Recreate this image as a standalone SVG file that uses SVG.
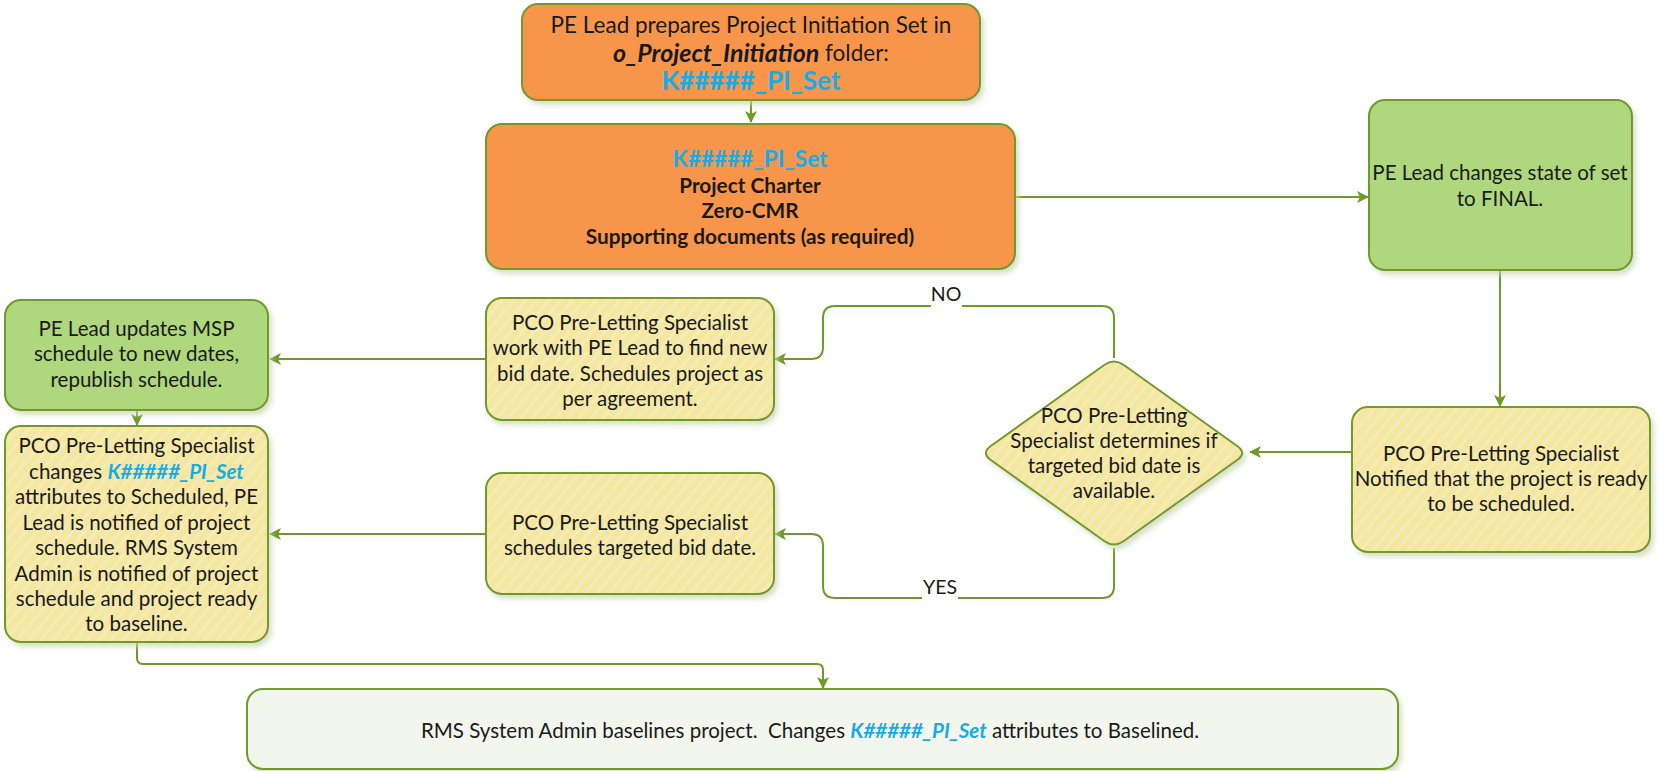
<svg xmlns="http://www.w3.org/2000/svg" width="1661" height="771" viewBox="0 0 1661 771">
<style>
text{font-family:Lato,"Open Sans","Liberation Sans",sans-serif;fill:#1a1a1a;text-anchor:middle;dominant-baseline:central}
.t{font-size:20.5px}
.tt{font-size:22.5px}
.b{font-size:20.8px;font-weight:bold}
.blue{fill:#18ACE6;font-weight:bold}
.bi{font-weight:bold;font-style:italic}
.box{stroke:#73992B;stroke-width:2;filter:url(#sh)}
.org{fill:#F7964B}
.grn{fill:#AFD77E}
.yel{fill:url(#hatch)}
.pale{fill:#F3F6EC}
.con{fill:none;stroke:#6E9A26;stroke-width:2;marker-end:url(#arr)}
.lbl{font-size:19.5px}
</style>
<defs>
<filter id="sh" x="-10%" y="-10%" width="125%" height="130%">
<feDropShadow dx="3" dy="4" stdDeviation="2.5" flood-color="#c9d4b2" flood-opacity="0.7"/>
</filter>
<pattern id="hatch" patternUnits="userSpaceOnUse" width="9" height="9" patternTransform="rotate(40)">
<rect width="9" height="9" fill="#F4E7A2"/>
<rect width="3" height="9" fill="#F6EBB3"/>
</pattern>
<marker id="arr" viewBox="0 0 12 12" refX="11" refY="6" markerWidth="12" markerHeight="12" markerUnits="userSpaceOnUse" orient="auto">
<path d="M0,0 L12,6 L0,12 L3,6 Z" fill="#6E9A26"/>
</marker>
</defs>
<rect width="1661" height="771" fill="#ffffff"/>

<g id="connectors">
<path class="con" d="M751,100 L751,122"/>
<path class="con" d="M1015,197 L1368,197"/>
<path class="con" d="M1500,270 L1500,406"/>
<path class="con" d="M1352,452 L1250,452"/>
<path class="con" d="M1114,358 L1114,318 Q1114,306 1102,306 L835,306 Q823,306 823,318 L823,347 Q823,359 811,359 L775,359"/>
<path class="con" d="M1114,548 L1114,586 Q1114,598 1102,598 L835,598 Q823,598 823,586 L823,546 Q823,534 811,534 L775,534"/>
<path class="con" d="M486,359 L270,359"/>
<path class="con" d="M486,534 L270,534"/>
<path class="con" d="M137,410 L137,425"/>
<path class="con" d="M137,642 L137,658 Q137,664 143,664 L817,664 Q823,664 823,670 L823,688"/>
<rect x="931" y="281" width="31" height="26" fill="#ffffff"/>
<text class="lbl" x="946" y="293">NO</text>
<rect x="922" y="573" width="36" height="27" fill="#ffffff"/>
<text class="lbl" x="940" y="586">YES</text>
</g>

<g id="n_prepare">
<rect class="box org" x="522" y="4" width="458" height="96" rx="16"/>
<text class="tt" x="751" y="24">PE Lead prepares Project Initiation Set in</text>
<text class="tt" x="751" y="52"><tspan class="bi" style="font-size:25px">o_Project_Initiation</tspan> folder:</text>
<text class="tt blue" x="751" y="80" style="font-size:26px">K#####_PI_Set</text>
</g>

<g id="n_set">
<rect class="box org" x="486" y="124" width="529" height="145" rx="16"/>
<text class="b blue" x="750" y="158" style="font-size:22.5px">K#####_PI_Set</text>
<text class="b" x="750" y="184">Project Charter</text>
<text class="b" x="750" y="209">Zero-CMR</text>
<text class="b" x="750" y="235">Supporting documents (as required)</text>
</g>

<g id="n_final">
<rect class="box grn" x="1369" y="100" width="263" height="170" rx="16"/>
<text class="t" x="1500" y="172">PE Lead changes state of set</text>
<text class="t" x="1500" y="198">to FINAL.</text>
</g>

<g id="n_notified">
<rect class="box yel" x="1352" y="407" width="298" height="145" rx="16"/>
<text class="t" x="1501" y="453">PCO Pre-Letting Specialist</text>
<text class="t" x="1501" y="478">Notified that the project is ready</text>
<text class="t" x="1501" y="503">to be scheduled.</text>
</g>

<g id="n_decision">
<path class="box yel" d="M990.8,446 L1104.2,365 Q1114,358 1123.8,365 L1237.2,446 Q1247,453 1237.2,460 L1123.8,541 Q1114,548 1104.2,541 L990.8,460 Q981,453 990.8,446 Z"/>
<text class="t" x="1114" y="415">PCO Pre-Letting</text>
<text class="t" x="1114" y="440">Specialist determines if</text>
<text class="t" x="1114" y="465">targeted bid date is</text>
<text class="t" x="1114" y="490">available.</text>
</g>

<g id="n_newdate">
<rect class="box yel" x="486" y="298" width="288" height="122" rx="16"/>
<text class="t" x="630" y="322">PCO Pre-Letting Specialist</text>
<text class="t" x="630" y="347">work with PE Lead to find new</text>
<text class="t" x="630" y="373">bid date. Schedules project as</text>
<text class="t" x="630" y="398">per agreement.</text>
</g>

<g id="n_schedules">
<rect class="box yel" x="486" y="473" width="288" height="121" rx="16"/>
<text class="t" x="630" y="522">PCO Pre-Letting Specialist</text>
<text class="t" x="630" y="547">schedules targeted bid date.</text>
</g>

<g id="n_msp">
<rect class="box grn" x="5" y="300" width="263" height="110" rx="16"/>
<text class="t" x="136.5" y="328">PE Lead updates MSP</text>
<text class="t" x="136.5" y="353">schedule to new dates,</text>
<text class="t" x="136.5" y="379">republish schedule.</text>
</g>

<g id="n_scheduled">
<rect class="box yel" x="5" y="426" width="263" height="216" rx="16"/>
<text class="t" x="136.5" y="445">PCO Pre-Letting Specialist</text>
<text class="t" x="136.5" y="471">changes <tspan class="blue bi">K#####_PI_Set</tspan></text>
<text class="t" x="136.5" y="496">attributes to Scheduled, PE</text>
<text class="t" x="136.5" y="522">Lead is notified of project</text>
<text class="t" x="136.5" y="547">schedule. RMS System</text>
<text class="t" x="136.5" y="573">Admin is notified of project</text>
<text class="t" x="136.5" y="598">schedule and project ready</text>
<text class="t" x="136.5" y="623">to baseline.</text>
</g>

<g id="n_baseline">
<rect class="box pale" x="247" y="689" width="1151" height="80" rx="16"/>
<text class="t" x="810" y="730">RMS System Admin baselines project.&#160; Changes <tspan class="blue bi">K#####_PI_Set</tspan> attributes to Baselined.</text>
</g>
</svg>
